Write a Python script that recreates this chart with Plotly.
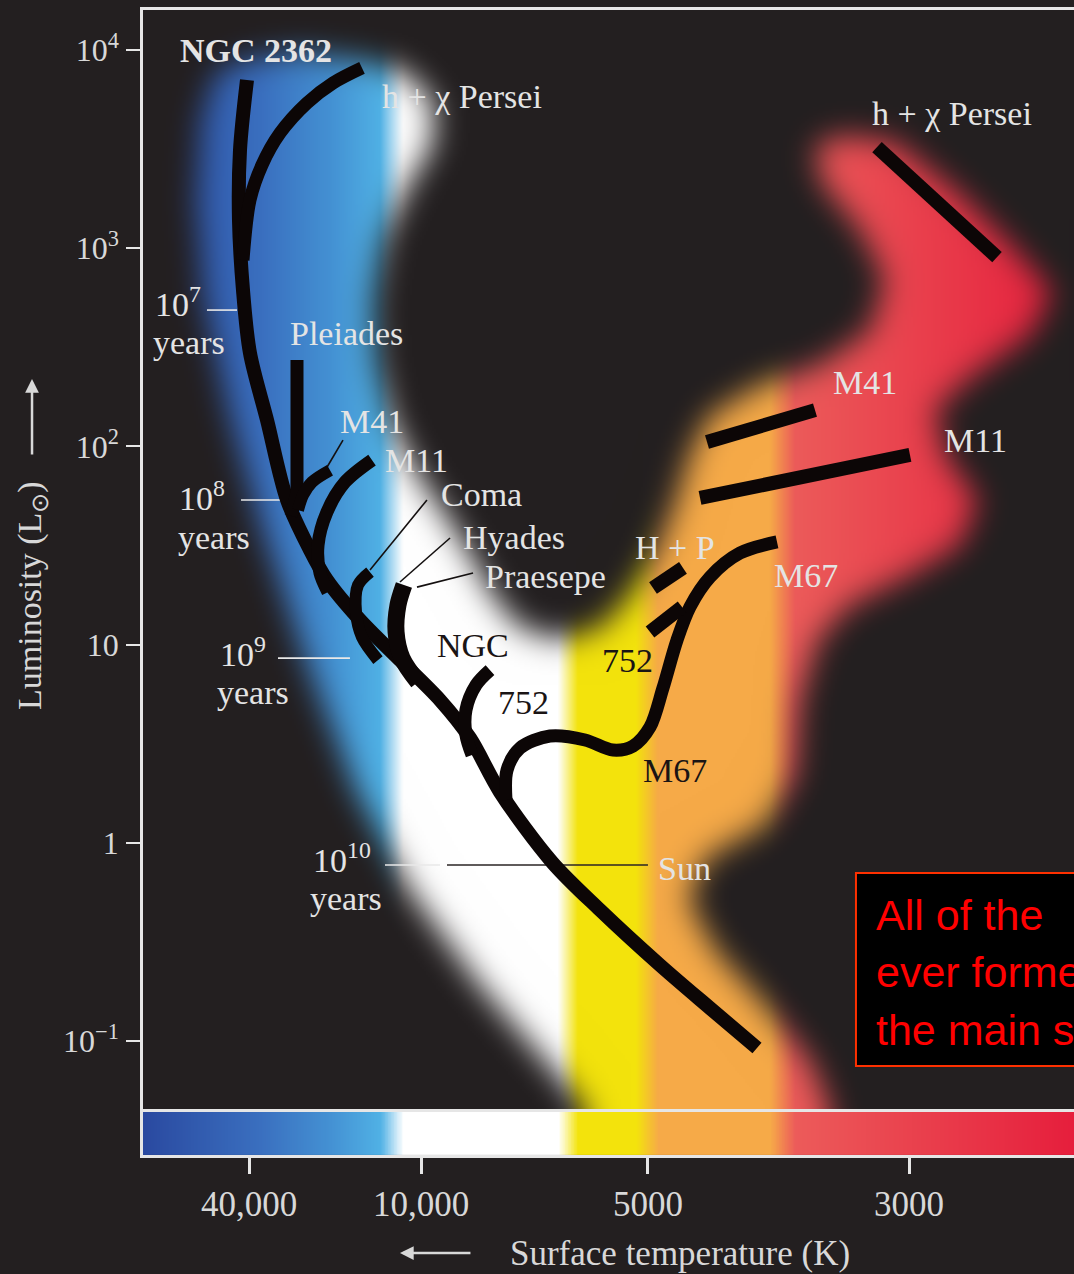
import base64
import struct
import zlib

import numpy as np
import plotly.graph_objects as go

# ---------------------------------------------------------------- scales
# Horizontal axis: position along the temperature (colour) scale, 0-100.
X_MIN, X_MAX = 0.0, 100.0
# Vertical axis: log10 of luminosity in solar units.
LOGL_MIN, LOGL_MAX = -1.348, 4.202

TEMP_POS = [11.39, 29.86, 54.24, 82.28]
TEMP_LABELS = ["40,000", "10,000", "5000", "3000"]
LUM_TICKS = [-1, 0, 1, 2, 3, 4]
LUM_LABELS = ["10<sup>−1</sup>", "1", "10", "10<sup>2</sup>", "10<sup>3</sup>", "10<sup>4</sup>"]

# Star colour along the temperature scale
SPEC_POS = [0, 12.57, 20.09, 25.46, 27.93, 44.58, 46.72, 52.95, 55.32, 67.35, 70.03, 100]
SPEC_COL = ["#2a49a0", "#3a6fbf", "#4491d3", "#50b1e5", "#ffffff", "#ffffff",
            "#f3e30c", "#f3e30c", "#f6aa48", "#f6aa48", "#ec5b5a", "#e61e3c"]

# Region of the diagram populated by stars (outline of the glowing band)
BAND_X = [7.73, 11.49, 16.86, 23.31, 28.14, 31.04, 31.04, 28.14, 25.67, 24.60, 24.92, 26.53,
          29.22, 32.44, 35.12, 37.49, 40.49, 44.79, 49.09, 52.09, 54.99, 57.14, 58.75, 60.90,
          66.27, 72.72, 78.09, 79.70, 77.01, 72.72, 72.18, 75.40, 80.77, 87.76, 93.66, 97.64,
          95.27, 88.83, 85.07, 86.14, 89.69, 87.76, 81.85, 75.94, 72.50, 70.57, 70.03, 66.81,
          60.37, 58.54, 61.44, 66.81, 71.64, 74.33, 49.09, 43.18, 36.20, 28.68, 22.77, 17.40,
          12.78, 9.34, 6.44, 5.59, 6.12]
BAND_LOGL = [3.888, 3.959, 3.990, 3.950, 3.888, 3.748, 3.521, 3.294, 3.041, 2.739, 2.436, 2.133,
             1.881, 1.654, 1.452, 1.250, 1.084, 1.023, 1.084, 1.235, 1.452, 1.704, 1.956, 2.158,
             2.310, 2.411, 2.587, 2.840, 3.092, 3.344, 3.521, 3.571, 3.536, 3.269, 2.991, 2.779,
             2.562, 2.345, 2.184, 1.957, 1.730, 1.502, 1.336, 1.200, 1.023, 0.720, 0.342, 0.090,
             -0.077, -0.289, -0.541, -0.819, -1.096, -1.399, -1.424, -1.096, -0.718, -0.239, 0.266, 0.922,
             1.578, 2.133, 2.739, 3.243, 3.647]

# Cluster tracks
ZAMS_X = [11.17, 10.42, 10.31, 10.74, 11.49, 13.32, 15.47, 17.94, 19.76, 23.31, 27.60, 31.90,
          35.12, 38.35, 43.93, 49.09, 55.53, 60.90, 65.95]
ZAMS_LOGL = [3.849, 3.496, 3.142, 2.789, 2.471, 2.133, 1.730, 1.477, 1.326, 1.124, 0.922, 0.720,
             0.529, 0.256, -0.097, -0.339, -0.617, -0.834, -1.035]
PERSEI_X = [10.74, 11.49, 12.78, 14.72, 17.62, 20.41, 23.52]
PERSEI_LOGL = [2.940, 3.243, 3.420, 3.581, 3.733, 3.834, 3.910]
PLEIADES_X = [16.54, 16.54, 15.90]
PLEIADES_LOGL = [2.436, 1.770, 1.650]
M41_X = [20.09, 18.15, 17.19, 16.65]
M41_LOGL = [1.880, 1.820, 1.754, 1.679]
M11_X = [24.60, 21.70, 19.76, 18.80, 19.01, 19.87]
M11_LOGL = [1.931, 1.820, 1.669, 1.502, 1.361, 1.265]
COMA_X = [24.38, 23.09, 22.88, 23.52, 25.24]
COMA_LOGL = [1.366, 1.300, 1.164, 1.038, 0.922]
HYADES_X = [28.03, 27.39, 27.18, 27.82, 29.54]
HYADES_LOGL = [1.301, 1.200, 1.064, 0.932, 0.811]
NGC752_X = [37.27, 35.77, 34.69, 34.69, 35.34]
NGC752_LOGL = [0.871, 0.796, 0.670, 0.544, 0.443]
M67_X = [38.99, 39.10, 40.49, 43.72, 47.48, 50.48, 52.63, 54.46, 55.85, 57.36, 58.75, 60.90, 64.12, 68.10]
M67_LOGL = [0.216, 0.367, 0.478, 0.539, 0.519, 0.468, 0.488, 0.584, 0.781, 1.023, 1.190, 1.341, 1.462, 1.518]

# Giant-branch segments
HP_GIANT1_X, HP_GIANT1_LOGL = [54.78, 58.00], [1.286, 1.387]
HP_GIANT2_X, HP_GIANT2_LOGL = [54.46, 57.90], [1.064, 1.190]
M41_GIANT_X, M41_GIANT_LOGL = [60.58, 72.18], [2.022, 2.183]
M11_GIANT_X, M11_GIANT_LOGL = [59.83, 82.38], [1.740, 1.957]
PERSEI_GIANT_X, PERSEI_GIANT_LOGL = [78.84, 91.73], [3.510, 2.955]

# Leader lines from labels to tracks
LEADERS = {
    "M41": ([19.76, 21.48], [1.895, 2.032]),
    "Coma": ([24.38, 30.50], [1.376, 1.730]),
    "Hyades": ([27.60, 32.98], [1.316, 1.538]),
    "Praesepe": ([29.43, 35.45], [1.290, 1.361]),
}

# Turn-off luminosity marks for cluster ages
AGE_MARK_X = {"1e7": [6.87, 10.10], "1e8": [10.53, 15.79], "1e9": [14.50, 22.23], "1e10": [25.99, 31.90]}
AGE_MARK_LOGL = {"1e7": 2.688, "1e8": 1.730, "1e9": 0.932, "1e10": -0.112}
SUN_LINE_X = [32.65, 54.24]
SUN_LINE_LOGL = -0.112

BG = "#231f20"
LIGHT = "#e4e4e4"
DARK = "#1a1414"
TRACK = "#0c0606"
SERIF = "Liberation Serif"


def hex_rgb(h):
    h = h.lstrip("#")
    return [int(h[i:i + 2], 16) for i in (0, 2, 4)]


def spec_rgb(pos):
    cols = np.array([hex_rgb(c) for c in SPEC_COL], float)
    return np.stack([np.interp(pos, SPEC_POS, cols[:, k]) for k in range(3)], axis=-1)


def gaussian_blur(a, sigma):
    r = int(3 * sigma)
    k = np.exp(-0.5 * (np.arange(-r, r + 1) / sigma) ** 2)
    k /= k.sum()
    for axis in (0, 1):
        pad = [(0, 0), (0, 0)]
        pad[axis] = (r, r)
        p = np.pad(a, pad, mode="edge")
        n = a.shape[axis]
        out = np.zeros_like(a)
        for i, w in enumerate(k):
            sl = [slice(None), slice(None)]
            sl[axis] = slice(i, i + n)
            out += w * p[tuple(sl)]
        a = out
    return a


def png_uri(rgb):
    h, w, _ = rgb.shape
    raw = b"".join(b"\x00" + rgb[r].tobytes() for r in range(h))

    def chunk(tag, data):
        return (struct.pack(">I", len(data)) + tag + data
                + struct.pack(">I", zlib.crc32(tag + data) & 0xFFFFFFFF))

    png = (b"\x89PNG\r\n\x1a\n"
           + chunk(b"IHDR", struct.pack(">IIBBBBB", w, h, 8, 2, 0, 0, 0))
           + chunk(b"IDAT", zlib.compress(raw, 9))
           + chunk(b"IEND", b""))
    return "data:image/png;base64," + base64.b64encode(png).decode()


# ---------------------------------------------------------------- glowing band image
NX, NY = 466, 550
gx = X_MIN + (np.arange(NX) + 0.5) / NX * (X_MAX - X_MIN)
gy = LOGL_MAX - (np.arange(NY) + 0.5) / NY * (LOGL_MAX - LOGL_MIN)
GX, GY = np.meshgrid(gx, gy)
inside = np.zeros(GX.shape, bool)
n = len(BAND_X)
with np.errstate(divide="ignore", invalid="ignore"):
    for i in range(n):
        x1, y1 = BAND_X[i], BAND_LOGL[i]
        x2, y2 = BAND_X[(i + 1) % n], BAND_LOGL[(i + 1) % n]
        crosses = (y1 > GY) != (y2 > GY)
        xint = x1 + (GY - y1) * (x2 - x1) / (y2 - y1 + 1e-12)
        inside ^= crosses & (GX < xint)
alpha = gaussian_blur(inside.astype(float), 7.5)[..., None]
colour = spec_rgb(gx)[None, :, :]
bg = np.array(hex_rgb(BG), float)
img = np.clip(bg * (1 - alpha) + colour * alpha, 0, 255).astype(np.uint8)
band_uri = png_uri(img)

# ---------------------------------------------------------------- figure
fig = go.Figure()

# colour strip under the diagram
strip_x = np.linspace(X_MIN, X_MAX, 601)
scale = [[p / 100.0, c] for p, c in zip(SPEC_POS, SPEC_COL)]
fig.add_trace(go.Heatmap(x=strip_x, y=[0.5], z=[strip_x], colorscale=scale, zmin=0, zmax=100,
                         showscale=False, zsmooth="best", xaxis="x2", yaxis="y2", hoverinfo="skip"))


def line(xs, ys, width, color=TRACK, shape="spline"):
    fig.add_trace(go.Scatter(x=xs, y=ys, mode="lines", hoverinfo="skip", showlegend=False,
                             line=dict(color=color, width=width, shape=shape, smoothing=0.9)))


# thin marks first
for key in AGE_MARK_X:
    line(AGE_MARK_X[key], [AGE_MARK_LOGL[key]] * 2, 1.6, "#e8e8e8", "linear")
line(SUN_LINE_X, [SUN_LINE_LOGL] * 2, 1.6, "#2a2424", "linear")
for xs, ys in LEADERS.values():
    line(xs, ys, 1.6, "#141010", "linear")

# cluster tracks
line(ZAMS_X, ZAMS_LOGL, 14)
line(PERSEI_X, PERSEI_LOGL, 13)
line(PLEIADES_X, PLEIADES_LOGL, 13, shape="linear")
line(M41_X, M41_LOGL, 12)
line(M11_X, M11_LOGL, 13)
line(COMA_X, COMA_LOGL, 12)
line(HYADES_X, HYADES_LOGL, 17)
line(NGC752_X, NGC752_LOGL, 13)
line(M67_X, M67_LOGL, 13)
for xs, ys in [(HP_GIANT1_X, HP_GIANT1_LOGL), (HP_GIANT2_X, HP_GIANT2_LOGL),
               (M41_GIANT_X, M41_GIANT_LOGL), (M11_GIANT_X, M11_GIANT_LOGL),
               (PERSEI_GIANT_X, PERSEI_GIANT_LOGL)]:
    line(xs, ys, 14, shape="linear")

# labels in data coordinates
labels = [
    ("<b>NGC 2362</b>", 12.14, 4.000, LIGHT, 34),
    ("h + χ Persei", 34.26, 3.768, LIGHT, 34),
    ("h + χ Persei", 86.90, 3.682, LIGHT, 34),
    ("Pleiades", 21.91, 2.572, LIGHT, 34),
    ("M41", 24.60, 2.128, LIGHT, 34),
    ("M11", 29.43, 1.931, LIGHT, 34),
    ("Coma", 36.41, 1.755, LIGHT, 34),
    ("Hyades", 39.85, 1.543, LIGHT, 34),
    ("Praesepe", 43.18, 1.346, LIGHT, 34),
    ("NGC", 35.45, 0.998, DARK, 34),
    ("752", 40.82, 0.710, DARK, 34),
    ("H + P", 57.14, 1.492, LIGHT, 34),
    ("752", 52.09, 0.922, DARK, 34),
    ("M67", 71.21, 1.351, LIGHT, 34),
    ("M67", 57.14, 0.367, DARK, 34),
    ("M41", 77.55, 2.325, LIGHT, 34),
    ("M11", 89.37, 2.032, LIGHT, 34),
    ("Sun", 58.11, -0.127, LIGHT, 34),
    ("10<sup>7</sup>", 3.76, 2.727, LIGHT, 34),
    ("years", 4.94, 2.522, LIGHT, 34),
    ("10<sup>8</sup>", 6.34, 1.749, LIGHT, 34),
    ("years", 7.63, 1.543, LIGHT, 34),
    ("10<sup>9</sup>", 10.74, 0.962, LIGHT, 34),
    ("years", 11.82, 0.760, LIGHT, 34),
    ("10<sup>10</sup>", 21.37, -0.077, LIGHT, 34),
    ("years", 21.80, -0.279, LIGHT, 34),
]
annotations = [dict(text=t, x=x, y=y, xref="x", yref="y", showarrow=False,
                    xanchor="center", yanchor="middle",
                    font=dict(family=SERIF, size=s, color=c)) for t, x, y, c, s in labels]

# axis titles with arrows
annotations += [
    dict(text="Luminosity (L<sub>⊙</sub>)", x=-0.1192, y=0.4882, xref="paper", yref="paper",
         showarrow=False, textangle=-90, xanchor="center", yanchor="middle",
         font=dict(family=SERIF, size=34, color="#d8d8d8")),
    dict(text="", x=-0.1192, y=0.6777, xref="paper", yref="paper", showarrow=True,
         ax=0, ay=77, arrowhead=2, arrowsize=1.1, arrowwidth=2.5, arrowcolor="#d8d8d8"),
    dict(text="Surface temperature (K)", x=0.5768, y=-0.0856, xref="paper", yref="paper",
         showarrow=False, xanchor="center", yanchor="middle",
         font=dict(family=SERIF, size=35, color="#d8d8d8")),
    dict(text="", x=0.2760, y=-0.0856, xref="paper", yref="paper", showarrow=True,
         ax=72, ay=0, arrowhead=2, arrowsize=1.1, arrowwidth=2.5, arrowcolor="#d8d8d8"),
]

# callout box
for txt, yp in [("All of the", 0.2096), ("ever forme", 0.1598), ("the main s", 0.1092)]:
    annotations.append(dict(text=txt, x=0.7852, y=yp, xref="paper", yref="paper", showarrow=False,
                            xanchor="left", yanchor="middle",
                            font=dict(family="Liberation Sans", size=43, color="#ff0000")))

fig.update_layout(
    width=1074, height=1274, template="none",
    margin=dict(l=143, r=0, t=10, b=119, autoexpand=False),
    paper_bgcolor=BG, plot_bgcolor="rgba(0,0,0,0)",
    showlegend=False,
    xaxis=dict(domain=[0, 1], range=[X_MIN, X_MAX], showgrid=False, zeroline=False,
               showticklabels=False, ticks="", showline=True, mirror=True,
               linecolor="#e6e6e6", linewidth=2.5, anchor="y", automargin=False),
    yaxis=dict(domain=[0.0393, 1], range=[LOGL_MIN, LOGL_MAX], showgrid=False, zeroline=False,
               tickvals=LUM_TICKS, ticktext=LUM_LABELS, ticks="outside", ticklen=14,
               tickwidth=2, tickcolor="#e6e6e6", showline=True, linecolor="#e6e6e6",
               linewidth=2.5, ticklabelstandoff=1, automargin=False, anchor="x",
               tickfont=dict(family=SERIF, size=32, color="#d8d8d8")),
    xaxis2=dict(domain=[0, 1], range=[X_MIN, X_MAX], anchor="y2", showgrid=False, zeroline=False,
                tickvals=TEMP_POS, ticktext=TEMP_LABELS, ticks="outside", ticklen=16,
                tickwidth=2.5, tickcolor="#e6e6e6", showline=True, mirror=True,
                linecolor="#e6e6e6", linewidth=2.5, automargin=False, ticklabelstandoff=0,
                tickfont=dict(family=SERIF, size=35, color="#d8d8d8")),
    yaxis2=dict(domain=[0, 0.0376], range=[0, 1], anchor="x2", showgrid=False, zeroline=False,
                showticklabels=False, ticks="", showline=True, linecolor="#e6e6e6",
                linewidth=2.5, automargin=False),
    images=[dict(source=band_uri, xref="x", yref="y", x=X_MIN, y=LOGL_MAX,
                 sizex=X_MAX - X_MIN, sizey=LOGL_MAX - LOGL_MIN, xanchor="left", yanchor="top",
                 sizing="stretch", layer="below")],
    shapes=[dict(type="rect", xref="paper", yref="paper", x0=0.7658, x1=1.05, y0=0.0777, y1=0.2463,
                 line=dict(color="#ff3000", width=2), fillcolor="#000000", layer="above")],
    annotations=annotations,
)

fig.write_html("out.html", config={"displayModeBar": False})
